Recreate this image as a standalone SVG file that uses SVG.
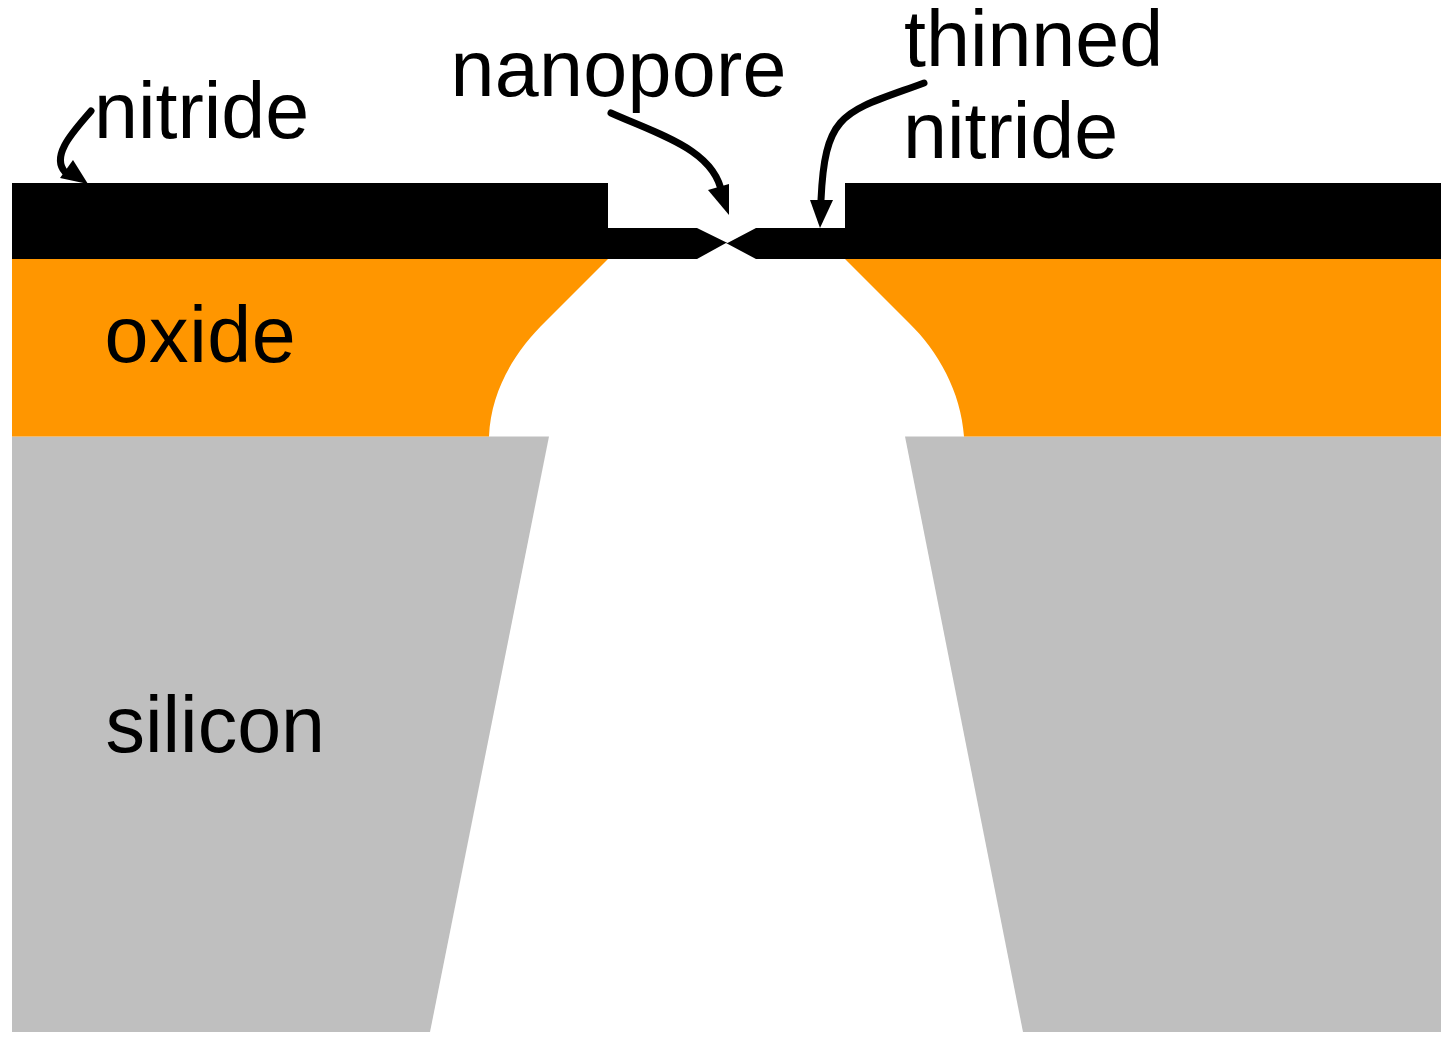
<svg xmlns="http://www.w3.org/2000/svg" width="1450" height="1041" viewBox="0 0 1450 1041">
<style>
text{font-family:"Liberation Sans",Arial,sans-serif;font-size:79px;fill:#000}
.arrow{fill:none;stroke:#000;stroke-width:7;stroke-linecap:round}
.head{fill:#000}
</style>
<rect width="1450" height="1041" fill="#fff"/>
<g id="silicon">
<path fill="#bfbfbf" d="M12 436.500H549L430 1032H12Z"/>
<path fill="#bfbfbf" d="M905 436.500H1441V1032H1023Z"/>
</g>
<g id="oxide">
<path fill="#ff9600" d="M12 259H608L546 321C515 351 491 390 489 436.500H12Z"/>
<path fill="#ff9600" d="M845 259H1441V436.500H964C961 392 938 351 909 323Z"/>
</g>
<g id="nitride">
<path fill="#000" d="M12 183H608V228H697L727.500 243L756 228H845V183H1441V259H756L726 243L697 259H12Z"/>
</g>
<g id="connectors">
<path class="arrow" d="M611 113C660 135 715 150 722 194"/>
<path class="head" d="M708 190L729 184L729 215Z"/>
<path class="arrow" d="M924 83C845 112 825 110 821 200"/>
<path class="head" d="M810 200H833L820 228Z"/>
<path class="arrow" d="M91 111C75 130 50 155 65 172"/>
<path class="head" d="M60 178L73 160L88 184Z"/>
</g>
<g id="labels">
<text x="94" y="138">nitride</text>
<text x="450.500" y="96" letter-spacing="0.300">nanopore</text>
<text x="904" y="66">thinned</text>
<text x="903" y="158">nitride</text>
<text x="104.500" y="362" letter-spacing="0.600">oxide</text>
<text x="105.500" y="752">silicon</text>
</g>
</svg>
